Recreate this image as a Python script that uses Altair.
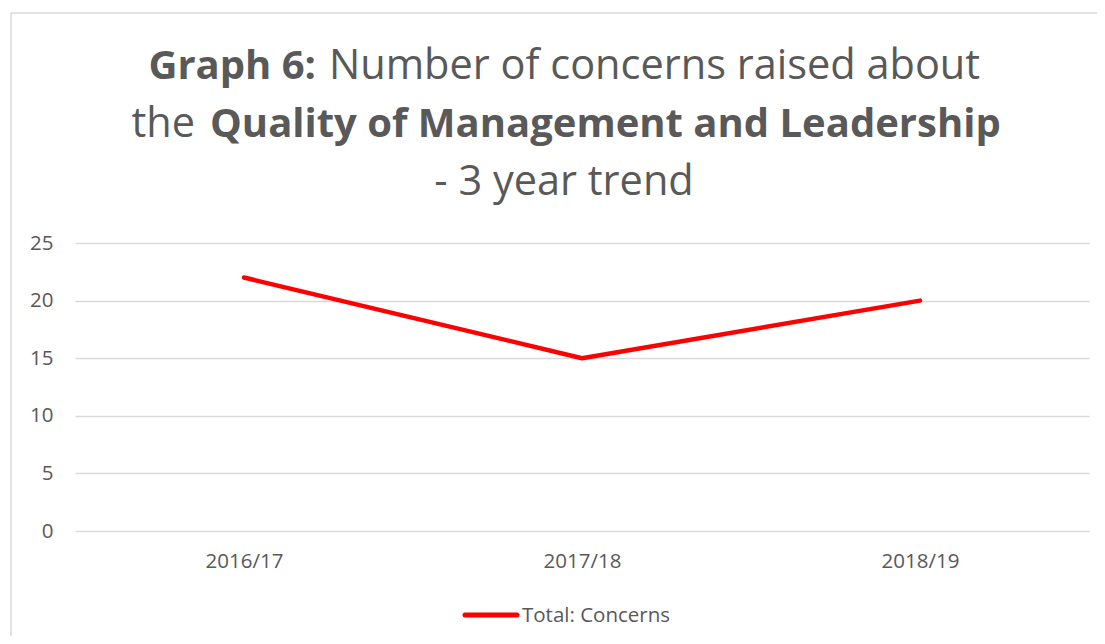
import altair as alt
import pandas as pd

years = ["2016/17", "2017/18", "2018/19"]
concerns = [22, 15, 20]
series_name = "Total: Concerns"
y_ticks = [0, 5, 10, 15, 20, 25]

title_l1_bold = "Graph 6:"
title_l1_norm = "Number of concerns raised about"
title_l2_norm = "the"
title_l2_bold = "Quality of Management and Leadership"
title_l3 = "- 3 year trend"

FONT = "Open Sans"
GREY = "#595959"
GRID = "#D9D9D9"
RED = "#FF0000"

W, H = 1014, 288
OX, OY = 75, 243  # page position of plot origin


def px(x):
    return x - OX


def py(y):
    return y - OY


df = pd.DataFrame({"year": years, "value": concerns})

base = alt.Chart(df)

line = base.mark_line(color=RED, strokeWidth=4.5, strokeCap="round", strokeJoin="round").encode(
    x=alt.X("year:N", sort=years, title=None,
            scale=alt.Scale(type="point", padding=0.5),
            axis=alt.Axis(domain=False, ticks=False, grid=False, labelAngle=0,
                          labelFont=FONT, labelFontSize=20.5, labelColor=GREY,
                          labelPadding=20)),
    y=alt.Y("value:Q", title=None,
            scale=alt.Scale(domain=[0, 25], nice=False, zero=True),
            axis=alt.Axis(values=y_ticks, domain=False, ticks=False, grid=True,
                          gridColor=GRID, gridWidth=1.3,
                          labelFont=FONT, labelFontSize=20.5, labelColor=GREY,
                          labelPadding=22)),
)

one = pd.DataFrame({"k": [0]})


def txt(s, x, y, size, weight, align):
    return alt.Chart(one).mark_text(
        text=s, font=FONT, fontSize=size, fontWeight=weight, color=GREY,
        align=align, baseline="alphabetic"
    ).encode(x=alt.value(px(x)), y=alt.value(py(y)))


TN = 41.5
TB = 40
t1a = txt(title_l1_bold, 316, 79, TB, "bold", "right")
t1b = txt(title_l1_norm, 329, 79, TN, "normal", "left")
t2a = txt(title_l2_norm, 195, 137, TN, "normal", "right")
t2b = txt(title_l2_bold, 210, 137, TB, "bold", "left")
t3 = txt(title_l3, 564, 195, TN, "normal", "center")

leg_line = alt.Chart(one).mark_rule(color=RED, strokeWidth=5, strokeCap="round").encode(
    x=alt.value(px(465)), x2=alt.value(px(517)), y=alt.value(py(615))
)
leg_text = txt(series_name, 522, 622, 20.5, "normal", "left")

border_left = alt.Chart(one).mark_rule(color=GRID, strokeWidth=1.5).encode(
    x=alt.value(px(11)), y=alt.value(py(13)), y2=alt.value(py(700))
)
border_top = alt.Chart(one).mark_rule(color=GRID, strokeWidth=1.5).encode(
    x=alt.value(px(11)), x2=alt.value(px(1200)), y=alt.value(py(13))
)

chart = alt.layer(
    border_left, border_top, line, t1a, t1b, t2a, t2b, t3, leg_line, leg_text
).properties(
    width=W, height=H,
    autosize=alt.AutoSizeParams(type="none"),
    padding={"left": OX - 8, "top": OY - 8, "right": 1089 - (OX - 8) - W, "bottom": 628 - (OY - 8) - H},
    background="white",
).configure_view(stroke=None)

chart.save("out.html", embed_options={"renderer": "svg", "actions": False})
